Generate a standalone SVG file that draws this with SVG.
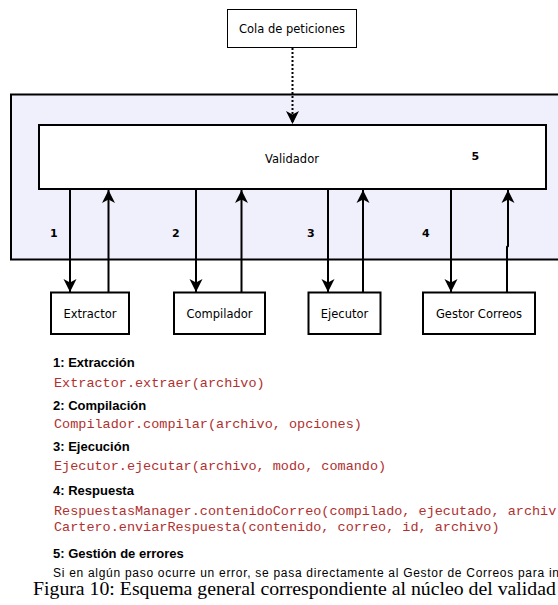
<svg xmlns="http://www.w3.org/2000/svg" width="558" height="605" viewBox="0 0 558 605">
  <style>
    .box { fill: #ffffff; stroke: #000000; stroke-width: 2; }
    .thin { fill: #ffffff; stroke: #000000; stroke-width: 1; }
    .lbl { font-family: "DejaVu Sans", Verdana, sans-serif; font-size: 11.5px; fill: #000000; text-anchor: middle; }
    .num { font-family: "DejaVu Sans", Verdana, sans-serif; font-size: 11px; font-weight: bold; fill: #000000; }
    .wire { fill: none; stroke: #000000; stroke-width: 2; }
    .dots { fill: none; stroke: #000000; stroke-width: 2; stroke-dasharray: 2 2; }
    .head { font-family: "Liberation Sans", Arial, sans-serif; font-size: 13px; font-weight: bold; fill: #000000; }
    .code { font-family: "Liberation Mono", "Courier New", monospace; font-size: 13.5px; fill: #b03030; }
    .note { font-family: "Liberation Sans", Tahoma, sans-serif; font-size: 12px; fill: #000000; }
    .cap { font-family: "Liberation Serif", "Times New Roman", serif; font-size: 19.8px; fill: #000000; }
  </style>
  <defs>
    <marker id="arrow" viewBox="0 0 14 14" refX="13" refY="7" markerWidth="14" markerHeight="14" markerUnits="userSpaceOnUse" orient="auto">
      <path d="M13,7 L0,0.5 L3.5,7 L0,13.5 Z" fill="#000000"/>
    </marker>
  </defs>

  <!-- core container -->
  <g id="core">
    <rect x="11" y="94.5" width="570" height="165" fill="#f0f0fc" stroke="#000000" stroke-width="2"/>
  </g>

  <g id="cola">
    <rect class="thin" x="227.5" y="9.5" width="129" height="38"/>
    <text class="lbl" x="292" y="33">Cola de peticiones</text>
  </g>

  <g id="validador">
    <rect class="box" x="39" y="125" width="507" height="64"/>
    <text class="lbl" x="292" y="163">Validador</text>
    <text class="num" x="471.5" y="160">5</text>
  </g>

  <g id="extractor">
    <rect class="box" x="51" y="292.5" width="78" height="41.5"/>
    <text class="lbl" x="90" y="318">Extractor</text>
  </g>

  <g id="compilador">
    <rect class="box" x="174" y="292.5" width="91" height="41.5"/>
    <text class="lbl" x="219.5" y="318">Compilador</text>
  </g>

  <g id="ejecutor">
    <rect class="box" x="308.5" y="292.5" width="72" height="41.5"/>
    <text class="lbl" x="344.5" y="318">Ejecutor</text>
  </g>

  <g id="gestor">
    <rect class="box" x="423" y="292.5" width="112" height="41.5"/>
    <text class="lbl" x="479" y="318">Gestor Correos</text>
  </g>

  <!-- connectors -->
  <g id="connectors">
    <line class="dots" x1="292.5" y1="48" x2="292.5" y2="124" marker-end="url(#arrow)"/>
    <line class="wire" x1="70" y1="189" x2="70" y2="292" marker-end="url(#arrow)"/>
    <line class="wire" x1="108.5" y1="292" x2="108.5" y2="190" marker-end="url(#arrow)"/>
    <line class="wire" x1="196" y1="189" x2="196" y2="292" marker-end="url(#arrow)"/>
    <line class="wire" x1="241.5" y1="292" x2="241.5" y2="190" marker-end="url(#arrow)"/>
    <line class="wire" x1="328" y1="189" x2="328" y2="292" marker-end="url(#arrow)"/>
    <line class="wire" x1="363" y1="292" x2="363" y2="190" marker-end="url(#arrow)"/>
    <line class="wire" x1="451" y1="189" x2="451" y2="292" marker-end="url(#arrow)"/>
    <polyline class="wire" points="507,292 507,247 508,246 508,190" marker-end="url(#arrow)"/>
  </g>

  <!-- step numbers -->
  <g id="steps">
    <text class="num" x="50" y="237">1</text>
    <text class="num" x="172" y="237">2</text>
    <text class="num" x="307" y="237">3</text>
    <text class="num" x="422" y="237">4</text>
  </g>

  <!-- legend -->
  <g id="legend">
    <text class="head" x="53" y="367">1: Extracción</text>
    <text class="code" x="54" y="387">Extractor.extraer(archivo)</text>
    <text class="head" x="53" y="410">2: Compilación</text>
    <text class="code" x="54" y="428">Compilador.compilar(archivo, opciones)</text>
    <text class="head" x="53" y="451">3: Ejecución</text>
    <text class="code" x="54" y="470">Ejecutor.ejecutar(archivo, modo, comando)</text>
    <text class="head" x="53" y="495">4: Respuesta</text>
    <text class="code" x="54" y="515">RespuestasManager.contenidoCorreo(compilado, ejecutado, archiv</text>
    <text class="code" x="54" y="531">Cartero.enviarRespuesta(contenido, correo, id, archivo)</text>
    <text class="head" x="53" y="558">5: Gestión de errores</text>
    <text class="note" x="53" y="577" textLength="510" lengthAdjust="spacing">Si en algún paso ocurre un error, se pasa directamente al Gestor de Correos para inf</text>
  </g>

  <text class="cap" x="33" y="595">Figura 10: Esquema general correspondiente al núcleo del validad</text>
</svg>
